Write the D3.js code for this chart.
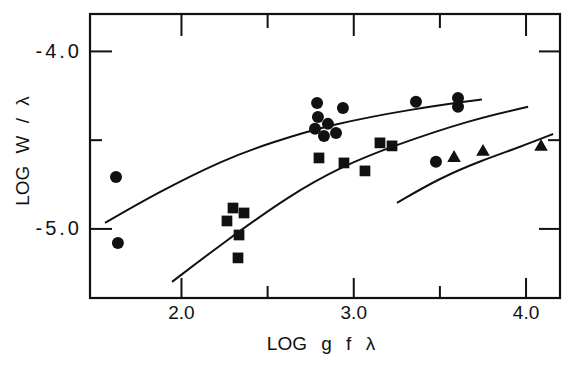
<!DOCTYPE html>
<html lang="en">
	<head>
		<meta charset="utf-8">
		<title>Curves of growth</title>
		<script type="text/javascript" src="https://cdn.jsdelivr.net/npm/d3@7/dist/d3.min.js"></script>
		<style type="text/css">
			body {
				margin: 0px;
				background: #fff;
			}
			text {
				font-family: "Liberation Sans", Arial, Helvetica, sans-serif;
				fill: #111;
			}
		</style>
	</head>
	<body>
		<div id="chart"></div>
		<script type="text/javascript">
		//Data (log g f lambda, log W / lambda)
			var circleX = [1.623, 1.634, 2.790, 2.795, 2.778, 2.853, 2.830, 2.900, 2.940, 3.364, 3.608, 3.608, 3.480];
			var circleY = [-4.710, -5.082, -4.293, -4.372, -4.439, -4.411, -4.479, -4.462, -4.321, -4.287, -4.265, -4.315, -4.625];

			var squareX = [2.801, 2.946, 3.068, 3.155, 3.225, 2.302, 2.366, 2.267, 2.337, 2.331];
			var squareY = [-4.603, -4.631, -4.676, -4.518, -4.535, -4.885, -4.913, -4.958, -5.037, -5.166];

			var triangleX = [3.585, 3.753, 4.090];
			var triangleY = [-4.603, -4.569, -4.541];

			//theoretical curves
			var curve1X = [1.559, 1.861, 2.244, 2.517, 2.882, 3.347, 3.678, 3.747];
			var curve1Y = [-4.969, -4.800, -4.614, -4.518, -4.411, -4.327, -4.282, -4.273];
			var curve2X = [1.948, 2.244, 2.633, 2.940, 3.231, 3.678, 4.015];
			var curve2Y = [-5.301, -5.082, -4.811, -4.648, -4.535, -4.389, -4.315];
			var curve3X = [3.254, 3.504, 3.753, 3.968, 4.160];
			var curve3Y = [-4.856, -4.715, -4.614, -4.541, -4.468];

			var xMajor = [2.0, 3.0, 4.0];
			var xMinor = [2.5, 3.5];
			var yMajor = [-4.0, -5.0];
			var yMinor = [-4.5];
			var xLabels = ["2.0", "3.0", "4.0"];
			var yLabels = ["-4.0", "-5.0"];

		//Setup
			var w = 570;
			var h = 371;
			var margin = {left: 90, right: 10, top: 14, bottom: 73};
			var width = w - margin.left - margin.right;
			var height = h - margin.top - margin.bottom;

			var svg = d3.select("#chart")
				.append("svg")
				.attr("width", w)
				.attr("height", h);

			var g = svg.append("g")
				.attr("transform", "translate(" + margin.left + ", " + margin.top + ")");

			var x = d3.scaleLinear()
				.domain([1.472, 4.200])
				.range([0, width]);

			var y = d3.scaleLinear()
				.domain([-5.392, -3.792])
				.range([height, 0]);

			var zip = function(xs, ys) {
				return xs.map(function(d, i) { return [d, ys[i]]; });
			};

		//Axes: ticks point inwards, labels only bottom and left
			var xLabel = function(d) {
				var i = xMajor.indexOf(d);
				return i < 0 ? "" : xLabels[i];
			};
			var yLabel = function(d) {
				var i = yMajor.indexOf(d);
				return i < 0 ? "" : yLabels[i];
			};
			var none = function() { return ""; };

			var addAxis = function(axis, ticks, size, fmt, transform) {
				var a = g.append("g")
					.attr("transform", transform)
					.call(axis
						.tickValues(ticks)
						.tickSizeInner(-size)
						.tickSizeOuter(0)
						.tickPadding(8)
						.tickFormat(fmt));
				a.select(".domain").remove();
				a.selectAll("line").attr("stroke", "#111").attr("stroke-width", 2);
				a.selectAll("text").attr("font-size", "19px").attr("fill", "#111");
				return a;
			};

			// major and minor, four sides
			addAxis(d3.axisBottom(x), xMajor, 20, xLabel, "translate(0," + height + ")");
			addAxis(d3.axisBottom(x), xMinor, 12, none, "translate(0," + height + ")");
			addAxis(d3.axisTop(x), xMajor, 22, none, "translate(0,0)");
			addAxis(d3.axisTop(x), xMinor, 14, none, "translate(0,0)");
			var yAx = addAxis(d3.axisLeft(y), yMajor, 22, yLabel, "translate(0,0)");
			addAxis(d3.axisLeft(y), yMinor, 12, none, "translate(0,0)");
			addAxis(d3.axisRight(y), yMajor, 21, none, "translate(" + width + ",0)");
			addAxis(d3.axisRight(y), yMinor, 12, none, "translate(" + width + ",0)");

			yAx.selectAll("text").attr("font-size", "20px").attr("letter-spacing", "3px");

			//frame
			g.append("rect")
				.attr("x", 0)
				.attr("y", 0)
				.attr("width", width)
				.attr("height", height)
				.attr("fill", "none")
				.attr("stroke", "#111")
				.attr("stroke-width", 2.2);

			// axis titles
			svg.append("text")
				.attr("x", 321)
				.attr("y", 350)
				.attr("text-anchor", "middle")
				.attr("font-size", "19px")
				.attr("word-spacing", "9px")
				.text("LOG g f λ");

			svg.append("text")
				.attr("transform", "translate(29, 151) rotate(-90)")
				.attr("text-anchor", "middle")
				.attr("font-size", "19px")
				.attr("word-spacing", "7px")
				.text("LOG W / λ");

		//Curves
			var line = d3.line()
				.x(function(d) { return x(d[0]); })
				.y(function(d) { return y(d[1]); })
				.curve(d3.curveBasis);

			[zip(curve1X, curve1Y), zip(curve2X, curve2Y), zip(curve3X, curve3Y)].forEach(function(c) {
				g.append("path")
					.datum(c)
					.attr("d", line)
					.attr("fill", "none")
					.attr("stroke", "#111")
					.attr("stroke-width", 2);
			});

		//Points
			g.selectAll("circle.pt")
				.data(zip(circleX, circleY))
				.enter()
				.append("circle")
				.attr("class", "pt")
				.attr("cx", function(d) { return x(d[0]); })
				.attr("cy", function(d) { return y(d[1]); })
				.attr("r", 6)
				.attr("fill", "#111");

			g.selectAll("path.sq")
				.data(zip(squareX, squareY))
				.enter()
				.append("path")
				.attr("class", "sq")
				.attr("d", d3.symbol().type(d3.symbolSquare).size(115))
				.attr("transform", function(d) { return "translate(" + x(d[0]) + "," + y(d[1]) + ")"; })
				.attr("fill", "#111");

			g.selectAll("path.tri")
				.data(zip(triangleX, triangleY))
				.enter()
				.append("path")
				.attr("class", "tri")
				.attr("d", d3.symbol().type(d3.symbolTriangle).size(80))
				.attr("transform", function(d) { return "translate(" + x(d[0]) + "," + y(d[1]) + ")"; })
				.attr("fill", "#111");

		</script>
	</body>
</html>
